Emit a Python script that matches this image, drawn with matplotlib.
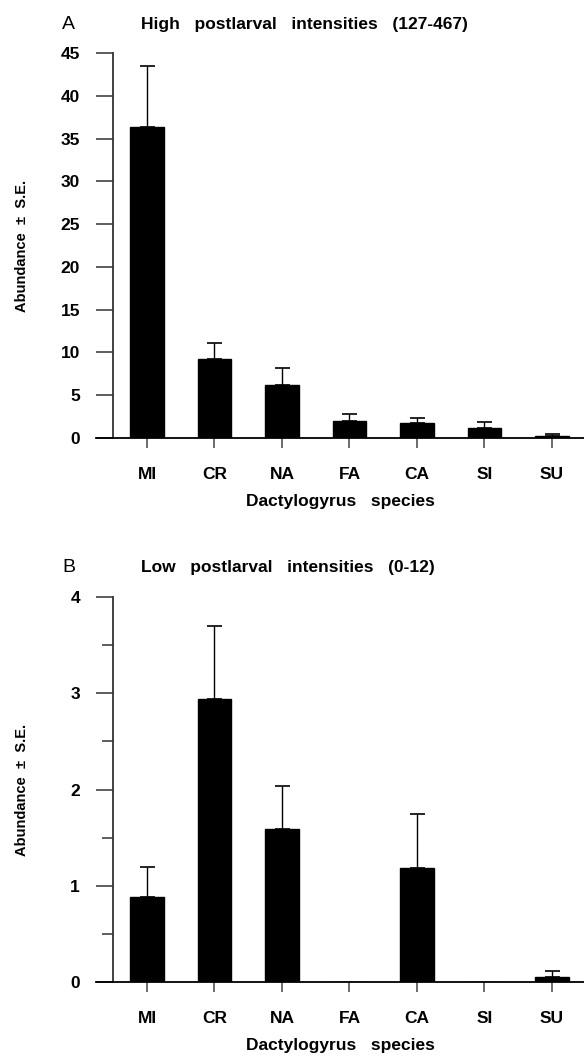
import numpy as np
import matplotlib.pyplot as plt
from matplotlib.ticker import MultipleLocator

plt.rcParams['font.family'] = ['Liberation Sans', 'DejaVu Sans']

# Dactylogyrus species codes
species = ['MI', 'CR', 'NA', 'FA', 'CA', 'SI', 'SU']

# panel A: high postlarval intensities
high_mean = [36.4, 9.2, 6.2, 1.97, 1.8, 1.15, 0.2]
high_se = [7.1, 1.9, 2.0, 0.87, 0.57, 0.67, 0.29]

# panel B: low postlarval intensities
low_mean = [0.88, 2.94, 1.59, 0.0, 1.18, 0.0, 0.05]
low_se = [0.31, 0.76, 0.45, 0.0, 0.57, 0.0, 0.06]

W, H = 584, 1057
fig = plt.figure(figsize=(W/100, H/100), dpi=100)

def panel(rect, mean, se, ymax, ystep, minor, letter, title, ytitle):
    ax = fig.add_axes(rect)
    x = np.arange(len(species))
    mean = np.array(mean)
    se = np.array(se)
    ax.bar(x, mean, width=0.5, color='black', edgecolor='black', zorder=2)
    m = se > 0
    ax.errorbar(x[m], mean[m], yerr=[np.zeros(m.sum()), se[m]], fmt='none',
                ecolor='black', elinewidth=1.0, capsize=5.4, capthick=1.2, zorder=1)

    ax.set_xlim(-0.755, 6.475)
    ax.set_ylim(0, ymax)
    for s in ['top', 'right']:
        ax.spines[s].set_visible(False)
    ax.spines['left'].set_position(('data', -0.5))
    ax.spines['left'].set_bounds(0, ymax)
    ax.spines['left'].set_linewidth(1.3)
    ax.spines['bottom'].set_linewidth(1.3)
    ax.spines['left'].set_color('#333333')

    ax.set_xticks(x)
    ax.set_xticklabels(species, fontsize=12.5, fontweight='bold')
    ax.tick_params(axis='x', direction='out', length=7.2, width=1.1, pad=14, color='#444444')
    ax.yaxis.set_major_locator(MultipleLocator(ystep))
    if minor:
        ax.yaxis.set_minor_locator(MultipleLocator(minor))
    ax.tick_params(axis='y', which='major', direction='out', length=12.5, width=1.1, pad=11.5,
                   labelsize=12.5, color='#333333')
    ax.tick_params(axis='y', which='minor', direction='out', length=8, width=1.1, color='#333333')
    for lab in ax.get_yticklabels():
        lab.set_fontweight('bold')
    ax.set_xlabel('Dactylogyrus   species', fontsize=12.5, fontweight='bold', labelpad=8)

    fig.text(62/W, ytitle, letter, fontsize=14, va='baseline', ha='left')
    fig.text(141/W, ytitle, title, fontsize=12.5, fontweight='bold', va='baseline', ha='left')
    fig.text(22/W, rect[1] + rect[3]/2, 'Abundance  \u00b1  S.E.', rotation=90,
             fontsize=10.5, fontweight='bold', ha='center', va='center')
    return ax

panel([96/W, 1 - 438/H, 1 - 96/W, 385/H], high_mean, high_se, 45, 5, None,
      'A', 'High   postlarval   intensities   (127-467)', 1 - 29/H)
panel([96/W, 1 - 982/H, 1 - 96/W, 385/H], low_mean, low_se, 4, 1, 0.5,
      'B', 'Low   postlarval   intensities   (0-12)', 1 - 572/H)

fig.savefig('out.png', dpi=100)
